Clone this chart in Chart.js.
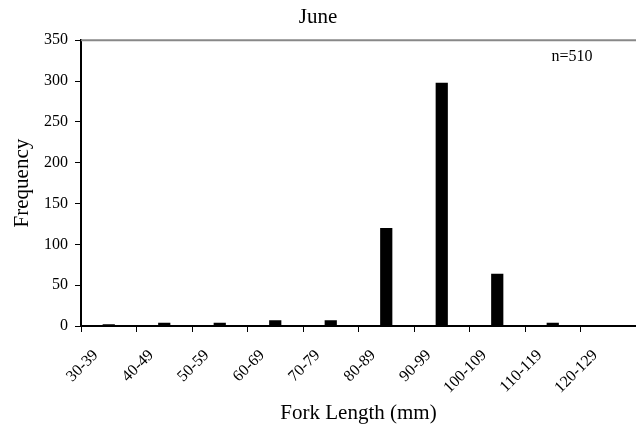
<!DOCTYPE html>
<html>
<head>
<meta charset="utf-8">
<script src="https://cdn.jsdelivr.net/npm/chart.js@4"></script>
<style>
  html, body { margin: 0; padding: 0; background: #fff; }
  #wrap { width: 636px; height: 431px; }
</style>
</head>
<body>
<div id="wrap"><canvas id="chart" width="636" height="431"></canvas></div>
<script>
// 체장 구간 (mm)
const lengthClasses = ['30-39', '40-49', '50-59', '60-69', '70-79', '80-89', '90-99', '100-109', '110-119', '120-129'];
// 구간별 빈도
const frequencies = [2, 4, 4, 7, 7, 120, 298, 64, 4, 0];
// y축 눈금
const yTicks = [0, 50, 100, 150, 200, 250, 300, 350];
const sampleNote = 'n=510';

const serif = 'Liberation Serif';

// 위쪽 회색 테두리와 n 표시
const extras = {
    id: 'extras',
    afterDraw(chart) {
        const { ctx, chartArea } = chart;
        ctx.save();
        ctx.strokeStyle = '#888';
        ctx.lineWidth = 2;
        ctx.beginPath();
        ctx.moveTo(chartArea.left, chartArea.top);
        ctx.lineTo(chartArea.right, chartArea.top);
        ctx.stroke();
        ctx.fillStyle = '#000';
        ctx.font = '16px "' + serif + '"';
        ctx.textAlign = 'center';
        ctx.textBaseline = 'middle';
        ctx.fillText(sampleNote, chartArea.right - 64, chartArea.top + 17);
        ctx.restore();
    }
};

new Chart(document.getElementById('chart').getContext('2d'), {
    type: 'bar',
    data: {
        labels: lengthClasses,
        datasets: [{
            data: frequencies,
            backgroundColor: '#000',
            borderWidth: 0,
            barPercentage: 0.22,
            categoryPercentage: 1
        }]
    },
    options: {
        responsive: false,
        animation: false,
        layout: { padding: 0 },
        plugins: {
            legend: { display: false },
            tooltip: { enabled: false },
            title: {
                display: true,
                text: 'June',
                color: '#000',
                font: { family: serif, size: 21, weight: 'normal' },
                padding: { top: 5, bottom: 10 }
            }
        },
        scales: {
            x: {
                afterFit(scale) { scale.height = 105; },
                grid: { display: true, drawOnChartArea: false, offset: true, tickLength: 6, color: '#000' },
                border: { color: '#000', width: 2 },
                ticks: {
                    color: '#000',
                    font: { family: serif, size: 16 },
                    minRotation: 45,
                    maxRotation: 45,
                    padding: 14,
                    labelOffset: -13
                },
                title: {
                    display: true,
                    text: 'Fork Length (mm)',
                    color: '#000',
                    font: { family: serif, size: 21 },
                    padding: { top: 0, bottom: 5 }
                }
            },
            y: {
                min: 0,
                max: 350,
                afterFit(scale) { scale.width = 81; },
                afterBuildTicks(scale) {
                    scale.ticks = yTicks.map(v => ({ value: v }));
                },
                grid: { display: true, drawOnChartArea: false, tickLength: 6, color: '#000' },
                border: { color: '#000', width: 2 },
                ticks: {
                    color: '#000',
                    font: { family: serif, size: 16 },
                    padding: 7
                },
                title: {
                    display: true,
                    text: 'Frequency',
                    color: '#000',
                    font: { family: serif, size: 21 },
                    padding: { top: 10, bottom: 0 }
                }
            }
        }
    },
    plugins: [extras]
});
</script>
</body>
</html>
